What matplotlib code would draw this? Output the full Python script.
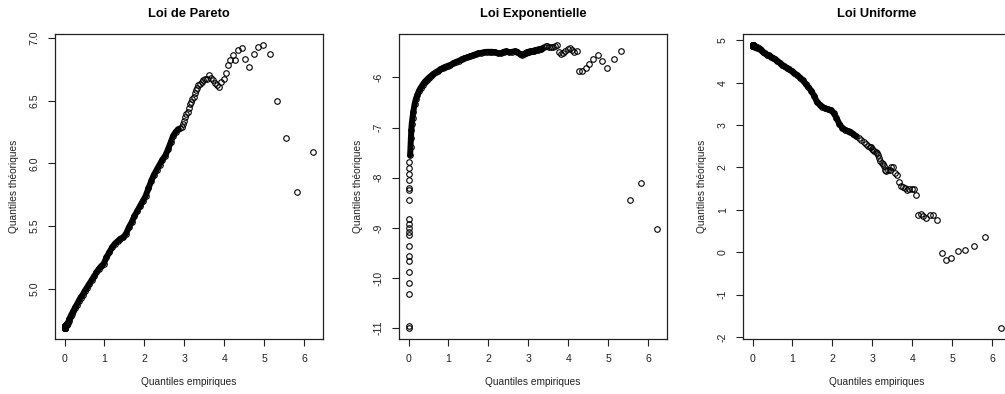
import numpy as np
import matplotlib.pyplot as plt

plt.rcParams['font.family'] = ['Liberation Sans', 'DejaVu Sans']
plt.rcParams['axes.unicode_minus'] = False

# quantiles empiriques (les memes pour les trois lois)
quantiles_emp = [
    0.01, 0.01, 0.01, 0.01, 0.01, 0.02, 0.02, 0.02, 0.02, 0.02,
    0.02, 0.02, 0.02, 0.02, 0.02, 0.02, 0.02, 0.02, 0.02, 0.02,
    0.04, 0.05, 0.06, 0.07, 0.08, 0.10, 0.12, 0.15, 0.18, 0.22,
    0.26, 0.30, 0.35, 0.40, 0.45, 0.50, 0.56, 0.62, 0.68, 0.74,
    0.80, 0.86, 0.92, 0.98, 1.05, 1.12, 1.19, 1.26, 1.33, 1.40,
    1.47, 1.54, 1.61, 1.68, 1.75, 1.82, 1.89, 1.96, 2.03, 2.10,
    2.17, 2.24, 2.31, 2.38, 2.45, 2.52, 2.59, 2.66, 2.72, 2.78,
    2.84, 2.90, 2.93, 2.96, 2.99, 3.02, 3.05, 3.08, 3.11, 3.14,
    3.17, 3.20, 3.23, 3.26, 3.29, 3.32,
    3.35, 3.39, 3.43, 3.47, 3.52, 3.57, 3.62, 3.67, 3.72, 3.77,
    3.82, 3.87, 3.92, 3.98, 4.03, 4.08, 4.14, 4.21, 4.27, 4.35,
    4.43, 4.52, 4.62, 4.73, 4.85, 4.97, 5.13, 5.31, 5.53, 5.81,
    6.22,
]

# quantiles theoriques
q_pareto = [
    4.69, 4.69, 4.69, 4.69, 4.69, 4.69, 4.69, 4.69, 4.69, 4.69,
    4.70, 4.70, 4.70, 4.70, 4.70, 4.70, 4.70, 4.70, 4.70, 4.70,
    4.71, 4.71, 4.72, 4.72, 4.73, 4.74, 4.76, 4.78, 4.80, 4.82,
    4.85, 4.87, 4.90, 4.93, 4.95, 4.98, 5.01, 5.04, 5.07, 5.10,
    5.13, 5.16, 5.18, 5.20, 5.25, 5.29, 5.33, 5.36, 5.38, 5.40,
    5.41, 5.44, 5.49, 5.53, 5.58, 5.62, 5.66, 5.70, 5.74, 5.80,
    5.86, 5.91, 5.95, 5.99, 6.03, 6.06, 6.11, 6.17, 6.22, 6.25,
    6.27, 6.28, 6.29, 6.31, 6.34, 6.37, 6.39, 6.41, 6.44, 6.47,
    6.49, 6.51, 6.53, 6.56, 6.58, 6.60,
    6.62, 6.63, 6.65, 6.66, 6.67, 6.67, 6.70, 6.68, 6.66, 6.64,
    6.62, 6.61, 6.65, 6.67, 6.72, 6.78, 6.82, 6.86, 6.82, 6.90,
    6.92, 6.83, 6.77, 6.87, 6.93, 6.94, 6.87, 6.50, 6.20, 5.77,
    6.09,
]

q_expo = [
    -10.99, -10.95, -10.32, -10.09, -9.88, -9.66, -9.57, -9.36, -9.15, -9.09,
    -9.01, -8.92, -8.82, -8.45, -8.25, -8.20, -8.04, -7.92, -7.80, -7.69,
    -7.55, -7.38, -7.20, -7.05, -6.93, -6.80, -6.68, -6.54, -6.44, -6.35,
    -6.27, -6.21, -6.15, -6.09, -6.05, -6.01, -5.97, -5.93, -5.90, -5.87,
    -5.84, -5.81, -5.79, -5.77, -5.75, -5.72, -5.69, -5.67, -5.64, -5.62,
    -5.60, -5.58, -5.56, -5.54, -5.52, -5.51, -5.50, -5.49, -5.49, -5.49,
    -5.50, -5.52, -5.52, -5.49, -5.48, -5.50, -5.49, -5.48, -5.49, -5.53,
    -5.55, -5.53, -5.51, -5.50, -5.49, -5.49, -5.48, -5.48, -5.47, -5.47,
    -5.46, -5.45, -5.45, -5.44, -5.44, -5.43,
    -5.41, -5.40, -5.37, -5.38, -5.40, -5.39, -5.40, -5.38, -5.36, -5.49,
    -5.53, -5.51, -5.47, -5.43, -5.41, -5.45, -5.50, -5.48, -5.87, -5.88,
    -5.81, -5.73, -5.64, -5.55, -5.68, -5.81, -5.64, -5.47, -8.45, -8.10,
    -9.02,
]

q_unif = [
    4.88, 4.88, 4.88, 4.88, 4.88, 4.88, 4.88, 4.88, 4.88, 4.88,
    4.87, 4.87, 4.87, 4.87, 4.87, 4.87, 4.87, 4.87, 4.87, 4.87,
    4.86, 4.86, 4.85, 4.85, 4.84, 4.83, 4.82, 4.81, 4.80, 4.77,
    4.73, 4.69, 4.66, 4.64, 4.61, 4.59, 4.55, 4.51, 4.47, 4.42,
    4.38, 4.35, 4.31, 4.27, 4.22, 4.17, 4.12, 4.05, 3.97, 3.89,
    3.81, 3.69, 3.55, 3.48, 3.43, 3.39, 3.37, 3.35, 3.28, 3.17,
    3.03, 2.94, 2.89, 2.86, 2.84, 2.79, 2.73, 2.69, 2.64, 2.60,
    2.56, 2.51, 2.49, 2.47, 2.44, 2.41, 2.39, 2.36, 2.34, 2.29,
    2.22, 2.16, 2.11, 2.09, 2.04, 1.95,
    1.92, 1.93, 1.95, 2.00, 2.01, 1.86, 1.83, 1.65, 1.56, 1.53,
    1.51, 1.46, 1.48, 1.49, 1.49, 1.35, 0.88, 0.91, 0.86, 0.80,
    0.88, 0.88, 0.76, -0.02, -0.18, -0.13, 0.02, 0.06, 0.15, 0.36,
    -1.78,
]

titres = ['Loi de Pareto', 'Loi Exponentielle', 'Loi Uniforme']
yticks = [[5.0, 5.5, 6.0, 6.5, 7.0], list(range(-11, -5)), list(range(-2, 6))]
ytick_fmt = ['{:.1f}', '{:d}', '{:d}']
# zone ou les points se confondent en un trait epais
zone_dense = [(0.0, 2.88), (0.035, 3.33), (0.0, 2.6)]


def r_lim(v):
    lo, hi = min(v), max(v)
    e = 0.04 * (hi - lo)
    return lo - e, hi + e


fig = plt.figure(figsize=(10.05, 3.94), dpi=100)
gauches = [55, 399, 743]
x = np.array(quantiles_emp)

for i, y in enumerate([q_pareto, q_expo, q_unif]):
    y = np.array(y)
    ax = fig.add_axes([gauches[i] / 1005, 55 / 394, 268 / 1005, 305 / 394])
    lo, hi = zone_dense[i]
    m = (x >= lo) & (x <= hi)
    ax.plot(x[m], y[m], color='black', lw=4.3, solid_capstyle='round',
            solid_joinstyle='round', zorder=2)
    ax.plot(x, y, 'o', mfc='none', mec='black', ms=4.0, mew=0.8, zorder=3)
    ax.set_xlim(r_lim(x))
    ax.set_ylim(r_lim(y))
    ax.set_xticks(range(0, 7))
    ax.set_yticks(yticks[i])
    ax.set_yticklabels([ytick_fmt[i].format(t) for t in yticks[i]],
                       rotation=90, va='center')
    ax.tick_params(length=5, width=0.8, pad=6, labelsize=7.6, colors='#222222')
    for s in ax.spines.values():
        s.set_linewidth(0.9)
        s.set_color('#222222')
    ax.set_title(titres[i], fontsize=9.3, fontweight='bold', pad=12)
    ax.set_xlabel('Quantiles empiriques', fontsize=7.3, labelpad=9,
                  color='#222222')
    ax.set_ylabel('Quantiles théoriques', fontsize=7.3, labelpad=8,
                  color='#222222')

fig.savefig('out.png', dpi=100)
